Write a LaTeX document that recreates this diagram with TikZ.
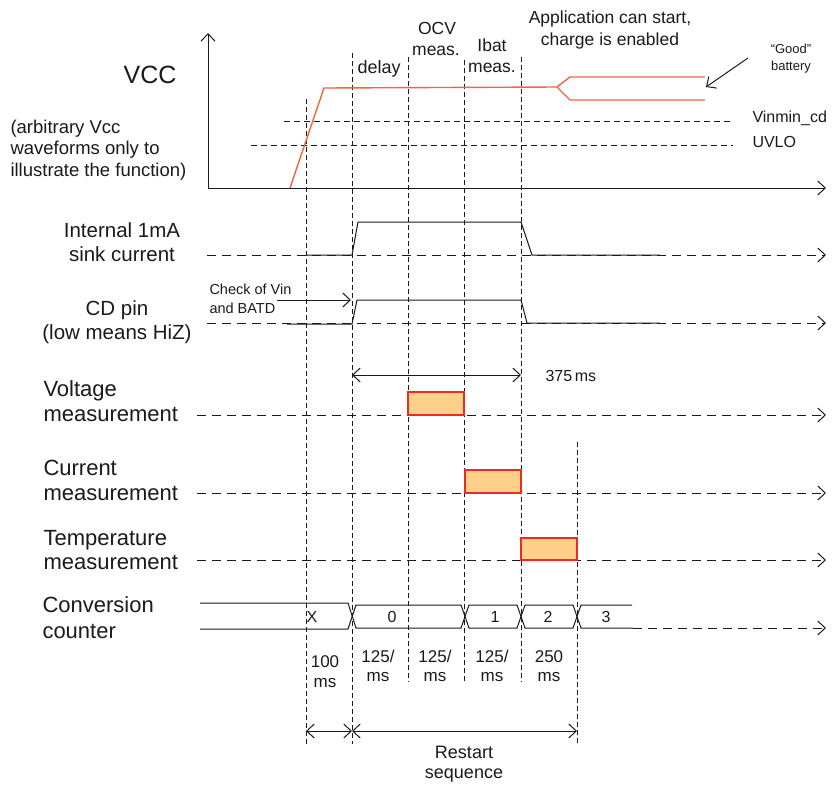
\documentclass[tikz,border=0pt]{standalone}
\usepackage{fontspec}
\setmainfont{Liberation Sans}
\usetikzlibrary{arrows.meta}
\definecolor{vccline}{HTML}{F4623F}
\definecolor{boxfill}{HTML}{FDD08A}
\definecolor{boxline}{HTML}{EE2A24}
\definecolor{ink}{HTML}{1A1A1A}
\newcommand\myfs[1]{\fontsize{#1}{#1}\selectfont}
\begin{document}
\begin{tikzpicture}[x=1pt,y=-1pt,line width=1pt,ink,
  sigdash/.style={dash pattern=on 9pt off 6pt},
  thrdash/.style={dash pattern=on 6pt off 4pt},
  vdash/.style={dash pattern=on 5pt off 3pt},
  barb/.style={-{Straight Barb[length=7.5pt,width=14pt]}},
  dbarb/.style={{Straight Barb[length=7.5pt,width=14pt]}-{Straight Barb[length=7.5pt,width=14pt]}},
  vccw/.style={draw=vccline,line width=1.4pt},
  measbox/.style={draw=boxline,fill=boxfill,line width=1.1pt},
  lbl/.style={inner sep=0pt,text=ink}]
\useasboundingbox (0,0) rectangle (836,785);

% ---------- VCC axes ----------
\coordinate (org) at (208,188);
\coordinate (ytop) at (208,33);
\coordinate (xend) at (826,188);
\draw[barb] (org) -- (ytop);
\draw[barb] (org) -- (xend);

% threshold lines
\draw[thrdash] (284,121) -- (732,121);
\draw[thrdash] (251,145) -- (733,145);

% vertical dashed time markers
\draw[vdash] (306,99) -- (306,744);
\draw[vdash] (352,53) -- (352,744);
\draw[vdash] (408,57) -- (408,682);
\draw[vdash] (464,60) -- (464,682);
\draw[vdash] (521,57) -- (521,682);
\draw[vdash] (577,442) -- (577,744);

% VCC waveform
\coordinate (split) at (557,87);
\draw[vccw] (290,188) -- (324,88) -- (split) -- (570,77) -- (705,77);
\draw[vccw] (split) -- (570,100) -- (705,100);
\coordinate (goodtail) at (748,58);
\coordinate (goodtip) at (706,87);
\draw[barb] (goodtail) -- (goodtip);

% ---------- texts top ----------
\node[lbl,anchor=base] (vcc) at (150,83) {\myfs{25}VCC};
\node[lbl,anchor=base west] (arb1) at (10,133) {\myfs{18.5}(arbitrary Vcc};
\node[lbl,anchor=base west] (arb2) at (10,154) {\myfs{18.5}waveforms only to};
\node[lbl,anchor=base west] (arb3) at (10,176) {\myfs{18.5}illustrate the function)};
\node[lbl,anchor=base west] (delay) at (357,73) {\myfs{18}delay};
\node[lbl,anchor=base] (ocv1) at (437,34) {\myfs{17.5}OCV};
\node[lbl,anchor=base] (ocv2) at (436,55) {\myfs{17.5}meas.};
\node[lbl,anchor=base] (ib1) at (492,51) {\myfs{17.5}Ibat};
\node[lbl,anchor=base] (ib2) at (492,72) {\myfs{17.5}meas.};
\node[lbl,anchor=base] (app1) at (610,23) {\myfs{17.5}Application can start,};
\node[lbl,anchor=base] (app2) at (610,45) {\myfs{17.5}charge is enabled};
\node[lbl,anchor=base] (good1) at (791,53) {\myfs{13}“Good”};
\node[lbl,anchor=base] (good2) at (791,70) {\myfs{13}battery};
\node[lbl,anchor=base west] (vinmin) at (752,122) {\myfs{16}Vinmin\_cd};
\node[lbl,anchor=base west] (uvlo) at (752,147) {\myfs{16}UVLO};

% ---------- Internal 1mA sink current ----------
\node[lbl,anchor=base] (int1) at (122,237) {\myfs{20.5}Internal 1mA};
\node[lbl,anchor=base] (int2) at (122,261) {\myfs{20.5}sink current};
\draw[sigdash,barb] (207,255) -- (826,255);
\draw (306,255) -- (352,255) -- (358,222) -- (521,222) -- (532,255) -- (660,255);

% ---------- CD pin ----------
\node[lbl,anchor=base] (cd1) at (117,315) {\myfs{20.5}CD pin};
\node[lbl,anchor=base] (cd2) at (117,339) {\myfs{20.5}(low means HiZ)};
\draw[sigdash,barb] (207,323) -- (826,323);
\draw (287,324) -- (352,324) -- (357,300) -- (521,300) -- (527,323) -- (660,323);
\node[lbl,anchor=base west] (chk1) at (209,294) {\myfs{14.5}Check of Vin};
\node[lbl,anchor=base west] (chk2) at (209,313) {\myfs{14.5}and BATD};
\coordinate (chkA) at (277,300);
\coordinate (chkB) at (351,300);
\draw[barb] (chkA) -- (chkB);

% 375 ms
\coordinate (t375a) at (352,375);
\coordinate (t375b) at (521,375);
\draw[dbarb] (t375a) -- (t375b);
\node[lbl,anchor=base west] (t375) at (545,381) {\myfs{16}375\,ms};

% ---------- measurements ----------
\node[lbl,anchor=base west] (v1) at (43,396) {\myfs{22}Voltage};
\node[lbl,anchor=base west] (v2) at (43,421) {\myfs{22}measurement};
\draw[sigdash,barb] (197,415) -- (826,415);
\draw[measbox] (408,392) rectangle (464,415);

\node[lbl,anchor=base west] (c1) at (43,475) {\myfs{22}Current};
\node[lbl,anchor=base west] (c2) at (43,500) {\myfs{22}measurement};
\draw[sigdash,barb] (197,493) -- (826,493);
\draw[measbox] (465,470) rectangle (521,493);

\node[lbl,anchor=base west] (tm1) at (43,545) {\myfs{22}Temperature};
\node[lbl,anchor=base west] (tm2) at (43,569) {\myfs{22}measurement};
\draw[sigdash,barb] (197,560) -- (826,560);
\draw[measbox] (521,538) rectangle (577,560);

% ---------- conversion counter ----------
\node[lbl,anchor=base west] (cc1) at (42,612) {\myfs{22}Conversion};
\node[lbl,anchor=base west] (cc2) at (42,638) {\myfs{22}counter};
\draw (200,603) -- (348,603) -- (356,628) -- (461,628) -- (469,605) -- (517,605) -- (525,628) -- (573,628) -- (581,605) -- (632,605);
\draw (200,629) -- (348,629) -- (356,605) -- (461,605) -- (469,628) -- (517,628) -- (525,605) -- (573,605) -- (581,628) -- (633,628);
\draw[sigdash,barb] (633,628) -- (826,628);
\node[lbl,anchor=base] (nx) at (312,622) {\myfs{16}X};
\node[lbl,anchor=base] (n0) at (392,622) {\myfs{16}0};
\node[lbl,anchor=base] (n1) at (495,622) {\myfs{16}1};
\node[lbl,anchor=base] (n2) at (548,622) {\myfs{16}2};
\node[lbl,anchor=base] (n3) at (606,622) {\myfs{16}3};

% durations
\node[lbl,anchor=base] (d0a) at (325,667) {\myfs{17}100};
\node[lbl,anchor=base] (d0b) at (325,687) {\myfs{17}ms};
\node[lbl,anchor=base] (d1a) at (378,662) {\myfs{17}125/};
\node[lbl,anchor=base] (d1b) at (378,681) {\myfs{17}ms};
\node[lbl,anchor=base] (d2a) at (435,662) {\myfs{17}125/};
\node[lbl,anchor=base] (d2b) at (435,681) {\myfs{17}ms};
\node[lbl,anchor=base] (d3a) at (492,662) {\myfs{17}125/};
\node[lbl,anchor=base] (d3b) at (492,681) {\myfs{17}ms};
\node[lbl,anchor=base] (d4a) at (549,662) {\myfs{17}250};
\node[lbl,anchor=base] (d4b) at (549,681) {\myfs{17}ms};

% bottom arrows
\coordinate (ba) at (306,731);
\coordinate (bb) at (352,731);
\coordinate (bc) at (577,731);
\draw[dbarb] (ba) -- (bb);
\draw[dbarb] (bb) -- (bc);
\node[lbl,anchor=base] (rs1) at (464,758) {\myfs{18}Restart};
\node[lbl,anchor=base] (rs2) at (464,778) {\myfs{18}sequence};
\end{tikzpicture}
\end{document}
